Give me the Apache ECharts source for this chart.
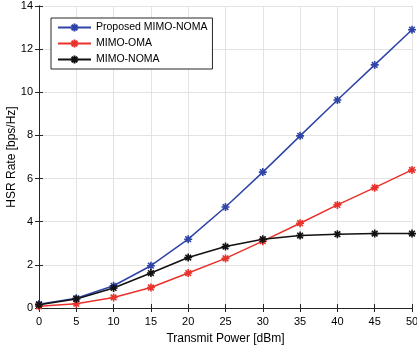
<!DOCTYPE html>
<html><head><meta charset="utf-8">
<script src="https://cdn.jsdelivr.net/npm/echarts@6/dist/echarts.min.js"></script>
<style>html,body{margin:0;padding:0;background:#fff}#c{width:417px;height:352px}</style>
</head><body><div id="c"></div>
<script>
const powers = [0, 5, 10, 15, 20, 25, 30, 35, 40, 45, 50];
const proposedNoma = [0.18, 0.45, 1.03, 1.96, 3.19, 4.68, 6.30, 7.98, 9.64, 11.27, 12.9];
const mimoOma = [0.08, 0.20, 0.49, 0.95, 1.62, 2.30, 3.10, 3.93, 4.78, 5.58, 6.40];
const mimoNoma = [0.15, 0.42, 0.93, 1.62, 2.34, 2.85, 3.19, 3.36, 3.42, 3.45, 3.45];
const xTicks = [0, 5, 10, 15, 20, 25, 30, 35, 40, 45, 50];
const yTicks = [0, 2, 4, 6, 8, 10, 12, 14];

const star = 'path://M0,-10L0,10M-10,0L10,0M-7.07,-7.07L7.07,7.07M-7.07,7.07L7.07,-7.07';
const font = 'Liberation Sans, Arial, sans-serif';
const axisCol = '#262626';

function mk(name, data, color) {
  return {
    name, type: 'line', data: powers.map((p, i) => [p, data[i]]),
    symbol: star, symbolSize: 8, showSymbol: true,
    lineStyle: { color, width: 1.5 },
    itemStyle: { color, borderColor: color, borderWidth: 1.6 },
    emphasis: { disabled: true }, animation: false, z: 3
  };
}

const chart = echarts.init(document.getElementById('c'), null, { renderer: 'canvas' });
chart.setOption({
  animation: false,
  grid: { left: 39, right: 5, top: 6, bottom: 44, containLabel: false, outerBoundsMode: 'none' },
  legend: {
    orient: 'vertical', left: 51, top: 18,
    padding: [4, 5, 4, 6],
    itemWidth: 33, itemHeight: 10, itemGap: 5,
    backgroundColor: '#fff', borderColor: axisCol, borderWidth: 1,
    textStyle: { fontFamily: font, fontSize: 10.5, color: '#000' },
    data: ['Proposed MIMO-NOMA', 'MIMO-OMA', 'MIMO-NOMA']
  },
  xAxis: [{
    type: 'value', min: 0, max: 50, interval: 5,
    name: 'Transmit Power [dBm]', nameLocation: 'middle', nameGap: 25, nameMoveOverlap: false,
    nameTextStyle: { fontFamily: font, fontSize: 12, color: '#000' },
    axisLine: { show: true, lineStyle: { color: axisCol, width: 1 } },
    axisTick: { show: true, inside: true, length: 4, lineStyle: { color: axisCol } },
    axisLabel: { fontFamily: font, fontSize: 11, color: '#000', margin: 8, showMaxLabel: true, showMinLabel: true },
    splitLine: { show: true, lineStyle: { color: '#e3e3e3', width: 1 } }
  }, {
    type: 'value', min: 0, max: 50, interval: 5, position: 'top',
    axisLine: { show: true, lineStyle: { color: axisCol, width: 1 } },
    axisTick: { show: true, inside: true, length: 4, lineStyle: { color: axisCol } },
    axisLabel: { show: false }, splitLine: { show: false }
  }],
  yAxis: [{
    type: 'value', min: 0, max: 14, interval: 2,
    name: 'HSR Rate [bps/Hz]', nameLocation: 'middle', nameGap: 21, nameMoveOverlap: false,
    nameTextStyle: { fontFamily: font, fontSize: 12, color: '#000' },
    axisLine: { show: true, lineStyle: { color: axisCol, width: 1 } },
    axisTick: { show: true, inside: true, length: 4, lineStyle: { color: axisCol } },
    axisLabel: { fontFamily: font, fontSize: 11, color: '#000', margin: 6 },
    splitLine: { show: true, lineStyle: { color: '#e3e3e3', width: 1 } }
  }, {
    type: 'value', min: 0, max: 14, interval: 2, position: 'right',
    axisLine: { show: true, lineStyle: { color: axisCol, width: 1 } },
    axisTick: { show: true, inside: true, length: 4, lineStyle: { color: axisCol } },
    axisLabel: { show: false }, splitLine: { show: false }
  }],
  series: [
    mk('Proposed MIMO-NOMA', proposedNoma, '#2f44a6'),
    mk('MIMO-OMA', mimoOma, '#e8322b'),
    mk('MIMO-NOMA', mimoNoma, '#111111')
  ]
});
</script></body></html>
